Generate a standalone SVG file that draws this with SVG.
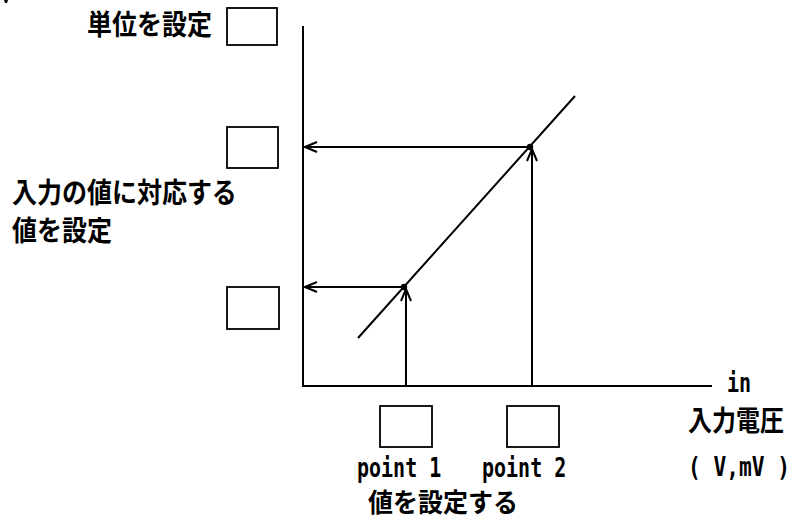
<svg xmlns="http://www.w3.org/2000/svg" width="808" height="521" viewBox="0 0 808 521">
<style>
.box{fill:#fff;stroke:#000;stroke-width:1.8}
.ln{stroke:#000;stroke-width:2;fill:none}
.jp{font-family:"Noto Sans CJK JP","Noto Sans CJK SC",sans-serif;font-size:25px;font-weight:bold;fill:#000}
.mono{font-family:"DejaVu Sans Mono","Liberation Mono",monospace;font-size:20px;font-weight:bold;fill:#000}
</style>
<defs>
<marker id="ah" viewBox="0 0 14 12" refX="13" refY="6" markerWidth="14" markerHeight="12" markerUnits="userSpaceOnUse" orient="auto">
<path d="M1,1 L13,6 L1,11" fill="none" stroke="#000" stroke-width="2"/>
</marker>
</defs>
<rect width="808" height="521" fill="#fff"/>
<path d="M4,0 L8,0 L7,3 L5,3 Z" fill="#000"/>
<g id="connectors">
<line class="ln" x1="303" y1="26" x2="303" y2="387"/>
<line class="ln" x1="302" y1="386" x2="712" y2="386"/>
<line class="ln" x1="358" y1="338" x2="575" y2="96"/>
<line class="ln" x1="530" y1="147" x2="305" y2="147" marker-end="url(#ah)"/>
<line class="ln" x1="404" y1="287" x2="305" y2="287" marker-end="url(#ah)"/>
<line class="ln" x1="406" y1="386" x2="406" y2="289" marker-end="url(#ah)"/>
<line class="ln" x1="532" y1="386" x2="532" y2="149" marker-end="url(#ah)"/>
<circle cx="404" cy="287" r="3.2" fill="#000"/>
<circle cx="530" cy="147" r="3.2" fill="#000"/>
</g>
<g id="unit">
<rect class="box" x="227" y="8" width="50" height="37"/>
<text class="jp" transform="translate(87,35) scale(1,1.13)">単位を設定</text>
</g>
<g id="out2"><rect class="box" x="227" y="127" width="51" height="41"/></g>
<g id="out-label">
<text class="jp" transform="translate(12,203) scale(1,1.13)">入力の値に対応する</text>
<text class="jp" transform="translate(12,241) scale(1,1.13)">値を設定</text>
</g>
<g id="out1"><rect class="box" x="227" y="287" width="52" height="42"/></g>
<g id="in1">
<rect class="box" x="380" y="406" width="52" height="41"/>
<text class="mono" transform="translate(357,477) scale(1,1.32)">point 1</text>
</g>
<g id="in2">
<rect class="box" x="507" y="406" width="52" height="41"/>
<text class="mono" transform="translate(482,477) scale(1,1.32)">point 2</text>
</g>
<g id="in-label"><text class="jp" transform="translate(368,512) scale(1,1.06)">値を設定する</text></g>
<g id="axis-label">
<text class="mono" transform="translate(727,392) scale(1,1.32)">in</text>
<text class="jp" transform="translate(688,431) scale(0.96,1.13)">入力電圧</text>
<text class="mono" transform="translate(688,476) scale(1.06,1.32)">( V,mV )</text>
</g>
</svg>
